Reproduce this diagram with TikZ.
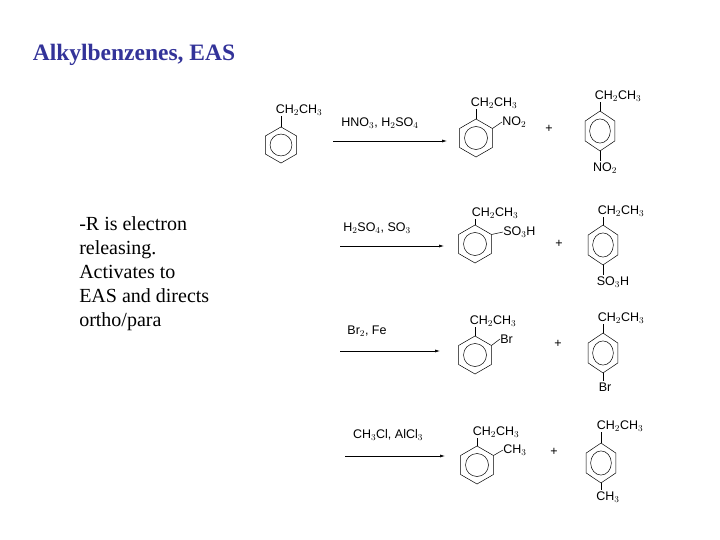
\documentclass[tikz,border=0pt]{standalone}
\usepackage{fontspec}
\setmainfont{Liberation Serif}
\newfontfamily\chem{Liberation Sans}
\usetikzlibrary{arrows.meta}
\definecolor{ttl}{RGB}{51,51,153}
\tikzset{x=1pt,y=-1pt,
 chemlbl/.style={font=\chem\fontsize{12.5}{13}\selectfont,inner sep=0pt},
 rxn/.style={-{Latex[length=5pt,width=3pt]},line width=0.6pt},
 bond/.style={line width=0.5pt},
 pics/ring/.style={code={
   \draw[bond] (90:19) -- (30:19) -- (-30:19) -- (-90:19) -- (-150:19) -- (150:19) -- cycle;
   \draw[bond] (0,0) circle[radius=11.5];
   \coordinate (-top) at (90:19); \coordinate (-bot) at (-90:19); \coordinate (-ne) at (30:19);
 }}}
\begin{document}
\begin{tikzpicture}[line width=0.5pt]
\useasboundingbox (0,0) rectangle (720,540);
\node[font=\bfseries\fontsize{23.5}{26}\selectfont,text=ttl] (title) at (134,55) {Alkylbenzenes, EAS};
\node[align=left,anchor=north west,font=\fontsize{20}{24}\selectfont,inner sep=0pt] (txt) at (79,216) {-R is electron\\releasing.\\Activates to\\EAS and directs\\ortho/para};
% start
\pic[yscale=-0.95,xscale=0.95] (s) at (281,145) {ring};
\node[chemlbl] (s1) at (299,110) {CH$_2$CH$_3$};
\draw[bond] (s-top) -- (281,116);
% row 1
\coordinate (a1) at (333,141); \coordinate (b1) at (447,141);
\draw[rxn] (a1) -- (b1);
\node[chemlbl] (r1) at (380,123) {HNO$_3$, H$_2$SO$_4$};
\pic[yscale=-1] (o1) at (476,138) {ring};
\node[chemlbl] (o1a) at (494,103) {CH$_2$CH$_3$};
\draw[bond] (o1-top) -- (476,109);
\node[chemlbl,anchor=west] (o1b) at (502,122) {NO$_2$};
\draw[bond] (o1-ne) -- (o1b.west);
\node[chemlbl] (p1) at (549,129) {+};
\pic[yscale=-1.05,xscale=0.9] (q1) at (600,131) {ring};
\node[chemlbl] (q1a) at (618,96) {CH$_2$CH$_3$};
\draw[bond] (q1-top) -- (600,102);
\node[chemlbl] (q1b) at (605,168) {NO$_2$};
\draw[bond] (q1-bot) -- (600,161);
% row 2
\coordinate (a2) at (340,246); \coordinate (b2) at (444,246);
\draw[rxn] (a2) -- (b2);
\node[chemlbl] (r2) at (377,228) {H$_2$SO$_4$, SO$_3$};
\pic[yscale=-1] (o2) at (475,244) {ring};
\node[chemlbl] (o2a) at (495,213) {CH$_2$CH$_3$};
\draw[bond] (o2-top) -- (475,219);
\node[chemlbl,anchor=west] (o2b) at (503,232) {SO$_3$H};
\draw[bond] (o2-ne) -- (o2b.west);
\node[chemlbl] (p2) at (559,244) {+};
\pic[yscale=-1.05,xscale=0.9] (q2) at (603,245) {ring};
\node[chemlbl] (q2a) at (621,211) {CH$_2$CH$_3$};
\draw[bond] (q2-top) -- (603,217);
\node[chemlbl] (q2b) at (613,282) {SO$_3$H};
\draw[bond] (q2-bot) -- (603,275);
% row 3
\coordinate (a3) at (340,351); \coordinate (b3) at (440,351);
\draw[rxn] (a3) -- (b3);
\node[chemlbl] (r3) at (367,331) {Br$_2$, Fe};
\pic[yscale=-1] (o3) at (475,355) {ring};
\node[chemlbl] (o3a) at (493,321) {CH$_2$CH$_3$};
\draw[bond] (o3-top) -- (475,327);
\node[chemlbl,anchor=west] (o3b) at (500,339) {Br};
\draw[bond] (o3-ne) -- (o3b.west);
\node[chemlbl] (p3) at (558,344) {+};
\pic[yscale=-1.05,xscale=0.9] (q3) at (603,353) {ring};
\node[chemlbl] (q3a) at (621,318) {CH$_2$CH$_3$};
\draw[bond] (q3-top) -- (603,324);
\node[chemlbl] (q3b) at (605,387) {Br};
\draw[bond] (q3-bot) -- (603,381);
% row 4
\coordinate (a4) at (345,456); \coordinate (b4) at (445,456);
\draw[rxn] (a4) -- (b4);
\node[chemlbl] (r4) at (388,435) {CH$_3$Cl, AlCl$_3$};
\pic[yscale=-1] (o4) at (477,465) {ring};
\node[chemlbl] (o4a) at (496,432) {CH$_2$CH$_3$};
\draw[bond] (o4-top) -- (477,438);
\node[chemlbl,anchor=west] (o4b) at (503,450) {CH$_3$};
\draw[bond] (o4-ne) -- (o4b.west);
\node[chemlbl] (p4) at (554,452) {+};
\pic[yscale=-1.05,xscale=0.9] (q4) at (601,463) {ring};
\node[chemlbl] (q4a) at (620,426) {CH$_2$CH$_3$};
\draw[bond] (q4-top) -- (601,432);
\node[chemlbl] (q4b) at (608,497) {CH$_3$};
\draw[bond] (q4-bot) -- (601,490);
\end{tikzpicture}
\end{document}
